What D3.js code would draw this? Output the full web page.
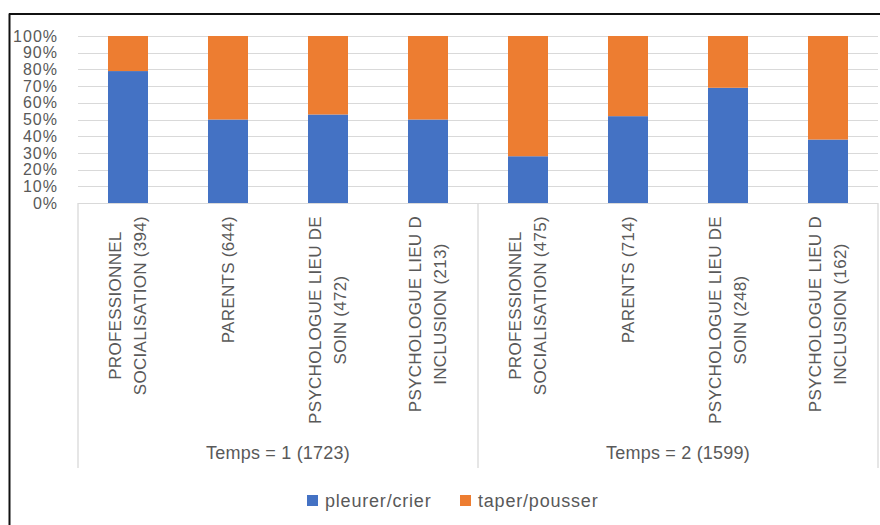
<!DOCTYPE html>
<html>
<head>
<meta charset="utf-8">
<script src="https://cdn.jsdelivr.net/npm/d3@7"></script>
<style>
  html, body { margin: 0; padding: 0; background: #fff; }
  svg { display: block; font-family: "Liberation Sans", Arial, sans-serif; }
</style>
</head>
<body>
<svg id="chart" width="880" height="525"></svg>
<script>
// ---- data ----
const groups = ["Temps = 1 (1723)", "Temps = 2 (1599)"];
const categoryLines = [
  ["PROFESSIONNEL", "SOCIALISATION (394)"],
  ["PARENTS (644)"],
  ["PSYCHOLOGUE LIEU DE", "SOIN (472)"],
  ["PSYCHOLOGUE LIEU D", "INCLUSION (213)"],
  ["PROFESSIONNEL", "SOCIALISATION (475)"],
  ["PARENTS (714)"],
  ["PSYCHOLOGUE LIEU DE", "SOIN (248)"],
  ["PSYCHOLOGUE LIEU D", "INCLUSION (162)"]
];
const categoryGroup = [0, 0, 0, 0, 1, 1, 1, 1];
const seriesNames = ["pleurer/crier", "taper/pousser"];
const pleurerCrier = [79, 50, 53, 50, 28, 52, 69, 38];
const taperPousser = [21, 50, 47, 50, 72, 48, 31, 62];
const yTicks = [0, 10, 20, 30, 40, 50, 60, 70, 80, 90, 100];
const colors = ["#4472C4", "#ED7D31"];

// ---- layout ----
const svg = d3.select("#chart");
const textColor = "#595959";
const gridColor = "#d9d9d9";
const plot = { left: 78, right: 878, top: 36, bottom: 203 };

const rows = categoryLines.map((c, i) => ({
  idx: i,
  lines: c,
  group: categoryGroup[i],
  "pleurer/crier": pleurerCrier[i] / 100,
  "taper/pousser": taperPousser[i] / 100
}));

const x = d3.scaleBand()
  .domain(rows.map(r => r.idx))
  .range([plot.left, plot.right])
  .paddingInner(0.6)
  .paddingOuter(0.3);

const xGroup = d3.scaleBand()
  .domain(groups.map((g, i) => i))
  .range([plot.left, plot.right]);

const y = d3.scaleLinear().domain([0, 1]).range([plot.bottom, plot.top]);

// frame (screenshot border)
svg.append("line").attr("x1", 9.5).attr("x2", 9.5).attr("y1", 13.5).attr("y2", 525)
  .attr("stroke", "#111").attr("stroke-width", 2);
svg.append("line").attr("x1", 9).attr("x2", 880).attr("y1", 14).attr("y2", 14)
  .attr("stroke", "#111").attr("stroke-width", 2);

// gridlines
svg.append("g")
  .selectAll("line")
  .data(yTicks.filter(t => t > 0))
  .join("line")
  .attr("x1", plot.left).attr("x2", plot.right)
  .attr("y1", d => Math.round(y(d / 100)) + 0.5)
  .attr("y2", d => Math.round(y(d / 100)) + 0.5)
  .attr("stroke", gridColor).attr("stroke-width", 1.2);

// y axis labels
const yAxis = d3.axisLeft(y)
  .tickValues(yTicks.map(t => t / 100))
  .tickFormat(d3.format(".0%"))
  .tickSize(0)
  .tickPadding(0);
const yg = svg.append("g").attr("transform", `translate(${58},0)`).call(yAxis);
yg.select(".domain").remove();
yg.selectAll("text")
  .attr("fill", textColor)
  .attr("font-size", 16)
  .attr("letter-spacing", 1)
  .attr("font-family", "Liberation Sans, Arial, sans-serif");

// stacked bars
const stack = d3.stack().keys(seriesNames);
const stacked = stack(rows);
svg.append("g")
  .selectAll("g")
  .data(stacked)
  .join("g")
  .attr("fill", (d, i) => colors[i])
  .selectAll("rect")
  .data(d => d)
  .join("rect")
  .attr("x", d => x(d.data.idx))
  .attr("width", x.bandwidth())
  .attr("y", d => y(d[1]))
  .attr("height", d => y(d[0]) - y(d[1]));

// category axis line
svg.append("line")
  .attr("x1", plot.left).attr("x2", plot.right)
  .attr("y1", plot.bottom + 0.5).attr("y2", plot.bottom + 0.5)
  .attr("stroke", gridColor).attr("stroke-width", 1.2);

// group separators
const sepBottom = 468;
const seps = groups.map((g, i) => xGroup(i)).concat([xGroup(groups.length - 1) + xGroup.bandwidth()]);
svg.append("g")
  .selectAll("line")
  .data(seps)
  .join("line")
  .attr("x1", d => d).attr("x2", d => d)
  .attr("y1", plot.bottom).attr("y2", sepBottom)
  .attr("stroke", gridColor).attr("stroke-width", 1.3);

// category labels (rotated, multi-line)
const labelTop = 216;
const lineGap = 25;
const catG = svg.append("g");
rows.forEach(r => {
  const cx = x(r.idx) + x.bandwidth() / 2;
  const n = r.lines.length;
  const texts = r.lines.map((ln, k) => {
    const lx = cx + (k - (n - 1) / 2) * lineGap;
    return catG.append("text")
      .attr("font-size", 17)
      .attr("letter-spacing", 0.3)
      .attr("fill", textColor)
      .attr("text-anchor", "middle")
      .attr("dy", "0.35em")
      .attr("data-x", lx)
      .text(ln);
  });
  const maxLen = d3.max(texts, t => t.node().getComputedTextLength());
  texts.forEach(t => {
    const lx = +t.attr("data-x");
    t.attr("transform", `translate(${lx},${labelTop + maxLen / 2}) rotate(-90)`);
  });
});

// group labels
svg.append("g")
  .selectAll("text")
  .data(groups)
  .join("text")
  .attr("x", (d, i) => xGroup(i) + xGroup.bandwidth() / 2)
  .attr("y", 453)
  .attr("dy", "0.35em")
  .attr("text-anchor", "middle")
  .attr("font-size", 18)
  .attr("letter-spacing", 0.2)
  .attr("fill", textColor)
  .text(d => d);

// legend
const legendX = [307, 460];
const legendY = 501;
const lg = svg.append("g")
  .selectAll("g")
  .data(seriesNames)
  .join("g")
  .attr("transform", (d, i) => `translate(${legendX[i]},${legendY})`);
lg.append("rect")
  .attr("x", 0).attr("y", -6).attr("width", 11).attr("height", 11)
  .attr("fill", (d, i) => colors[i]);
lg.append("text")
  .attr("x", 18).attr("y", 0).attr("dy", "0.35em")
  .attr("font-size", 18)
  .attr("letter-spacing", 0.8)
  .attr("fill", textColor)
  .text(d => d);
</script>
</body>
</html>
